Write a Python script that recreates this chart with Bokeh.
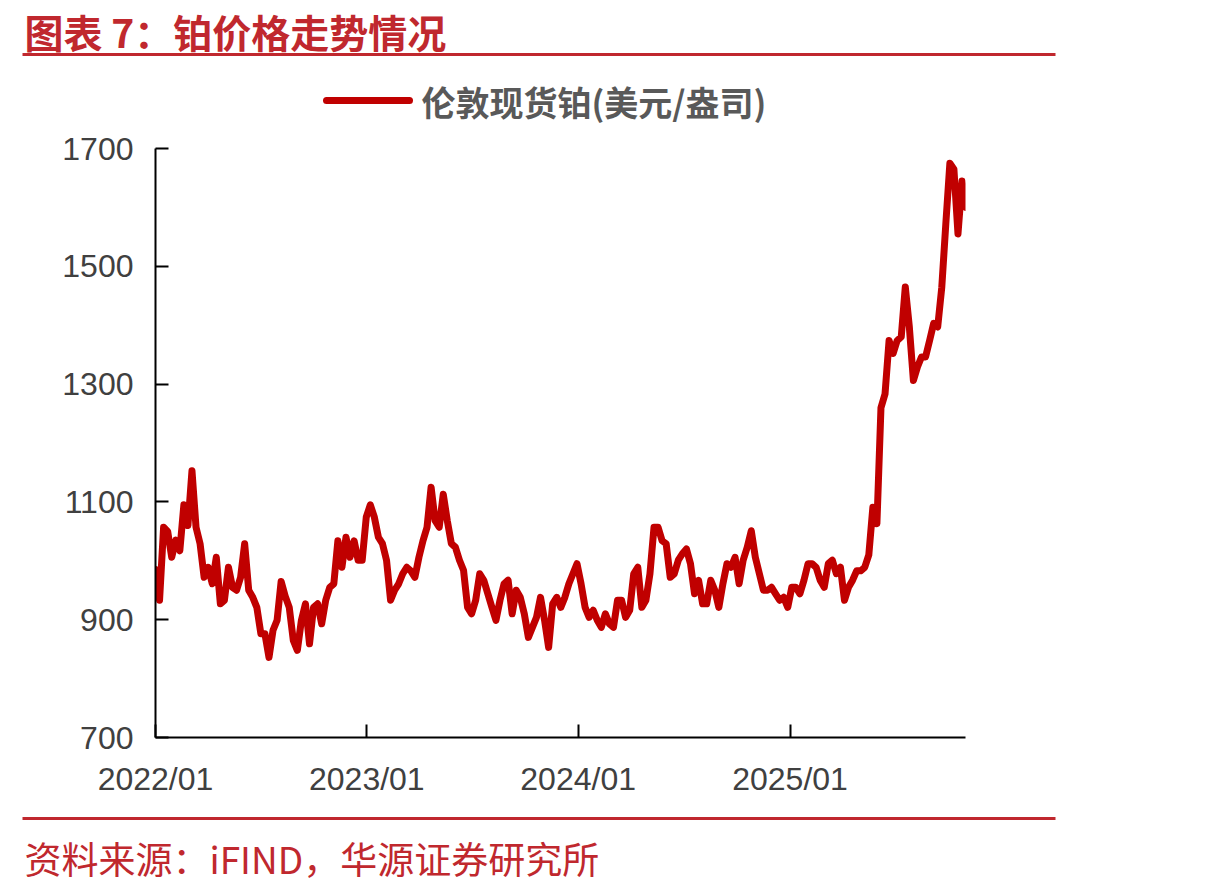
import pandas as pd
from bokeh.plotting import figure
from bokeh.layouts import column
from bokeh.models import Range1d, FixedTicker, DatetimeTickFormatter, ColumnDataSource
from bokeh.core.properties import value
from bokeh.embed import file_html
from bokeh.resources import INLINE

# ---------------- data ----------------
title_text = "图表 7：铂价格走势情况"
source_text = "资料来源：iFIND，华源证券研究所"
series_name = "伦敦现货铂(美元/盎司)"
start_date = "2022-01-01"
x_end_date = "2025-10-31"
x_tick_dates = ["2022-01-01", "2023-01-01", "2024-01-01", "2025-01-01"]
y_ticks = [700, 900, 1100, 1300, 1500, 1700]

# weekly London spot platinum (USD/oz)
platinum = [
    985, 933, 1057, 1050, 1006, 1035, 1017, 1095, 1060, 1153,
    1057, 1029, 972, 989, 961, 1006, 927, 933, 989, 955,
    950, 972, 1029, 950, 938, 921, 876, 876, 836, 882,
    899, 965, 940, 921, 865, 848, 899, 927, 859, 921,
    927, 893, 933, 955, 961, 1034, 989, 1040, 1006, 1034,
    1001, 1001, 1074, 1095, 1074, 1040, 1029, 1001, 933, 950,
    961, 978, 989, 983, 972, 1006, 1034, 1057, 1125, 1068,
    1057, 1113, 1068, 1029, 1023, 1001, 984, 921, 910, 933,
    978, 967, 944, 921, 899, 933, 961, 967, 910, 950,
    938, 910, 870, 887, 904, 938, 899, 853, 927, 938,
    921, 938, 961, 978, 995, 961, 921, 904, 916, 899,
    887, 910, 893, 887, 933, 933, 904, 916, 978, 989,
    921, 933, 978, 1057, 1057, 1034, 1029, 972, 978, 1001,
    1012, 1020, 995, 944, 967, 927, 927, 967, 950, 921,
    961, 995, 989, 1006, 961, 1001, 1023, 1051, 1006, 978,
    950, 950, 955, 944, 933, 938, 921, 955, 955, 944,
    967, 995, 995, 989, 967, 955, 995, 1001, 978, 989,
    933, 955, 967, 983, 983, 989, 1010, 1091, 1063, 1260,
    1283, 1374, 1352, 1374, 1380, 1465, 1397, 1306, 1329, 1346,
    1346, 1374, 1403, 1397, 1464, 1572, 1675, 1665, 1555, 1645,
    1600,
]

dates = pd.date_range(start_date, periods=len(platinum), freq="7D")

RED_TXT = "#C0282E"
LINE_RED = "#C00000"
GRAY = "#404040"
W = 1210


def blank(height, y_top, y_bottom):
    f = figure(width=W, height=height, x_range=Range1d(0, W), y_range=Range1d(y_bottom, y_top),
               output_backend="svg", toolbar_location=None, min_border=0)
    f.axis.visible = False
    f.grid.visible = False
    f.outline_line_color = None
    f.frame_align = False
    return f


# ---------------- header ----------------
top = blank(130, 0, 130)
top.text(x=[24], y=[30], text=[title_text], text_font=value("Noto Sans CJK SC"),
         text_font_size="39px", text_font_style="bold", text_color=RED_TXT,
         text_baseline="middle", text_align="left")
top.segment(x0=[22], y0=[54], x1=[1055], y1=[54], line_color=RED_TXT, line_width=3)
top.segment(x0=[326], y0=[100], x1=[409], y1=[100], line_color=LINE_RED,
            line_width=7, line_cap="round")
top.text(x=[421], y=[101], text=[series_name], text_font=value("Noto Sans CJK SC"),
         text_font_size="34px", text_font_style="bold", text_color="#595959",
         text_baseline="middle", text_align="left")

# ---------------- main chart ----------------
p = figure(width=W, height=675, x_axis_type="datetime",
           x_range=Range1d(pd.Timestamp(start_date), pd.Timestamp(x_end_date)),
           y_range=Range1d(700, 1700),
           output_backend="svg", toolbar_location=None,
           min_border_left=155, min_border_right=245, min_border_top=18, min_border_bottom=68)
p.frame_align = False
p.grid.visible = False
p.outline_line_color = None

src = ColumnDataSource(dict(date=dates, price=platinum))
p.line("date", "price", source=src, line_color=LINE_RED, line_width=7,
       line_join="round", line_cap="round")

p.xaxis.ticker = FixedTicker(ticks=[pd.Timestamp(d).value / 1e6 for d in x_tick_dates])
fmt = "%Y/%m"
p.xaxis.formatter = DatetimeTickFormatter(years=fmt, months=fmt, days=fmt, hours=fmt,
                                          minutes=fmt, seconds=fmt, milliseconds=fmt,
                                          microseconds=fmt, hourmin=fmt, minsec=fmt)
p.yaxis.ticker = FixedTicker(ticks=y_ticks)

for ax in (p.xaxis[0], p.yaxis[0]):
    ax.axis_line_color = "black"
    ax.axis_line_width = 2
    ax.major_tick_line_color = "black"
    ax.major_tick_line_width = 2
    ax.major_tick_in = 13
    ax.major_tick_out = 0
    ax.minor_tick_line_color = None
    ax.major_label_text_font = "Liberation Sans"
    ax.major_label_text_font_size = "32px"
    ax.major_label_text_color = GRAY
p.xaxis.major_label_standoff = 23
p.yaxis.major_label_standoff = 22

# ---------------- footer ----------------
bot = blank(85, 805, 890)
bot.segment(x0=[22], y0=[818], x1=[1055], y1=[818], line_color=RED_TXT, line_width=3)
bot.text(x=[24], y=[857], text=[source_text], text_font=value("Noto Sans CJK SC"),
         text_font_size="37px", text_color=RED_TXT,
         text_baseline="middle", text_align="left")

layout = column(top, p, bot, spacing=0)
open("out.html", "w").write(file_html(layout, INLINE))
